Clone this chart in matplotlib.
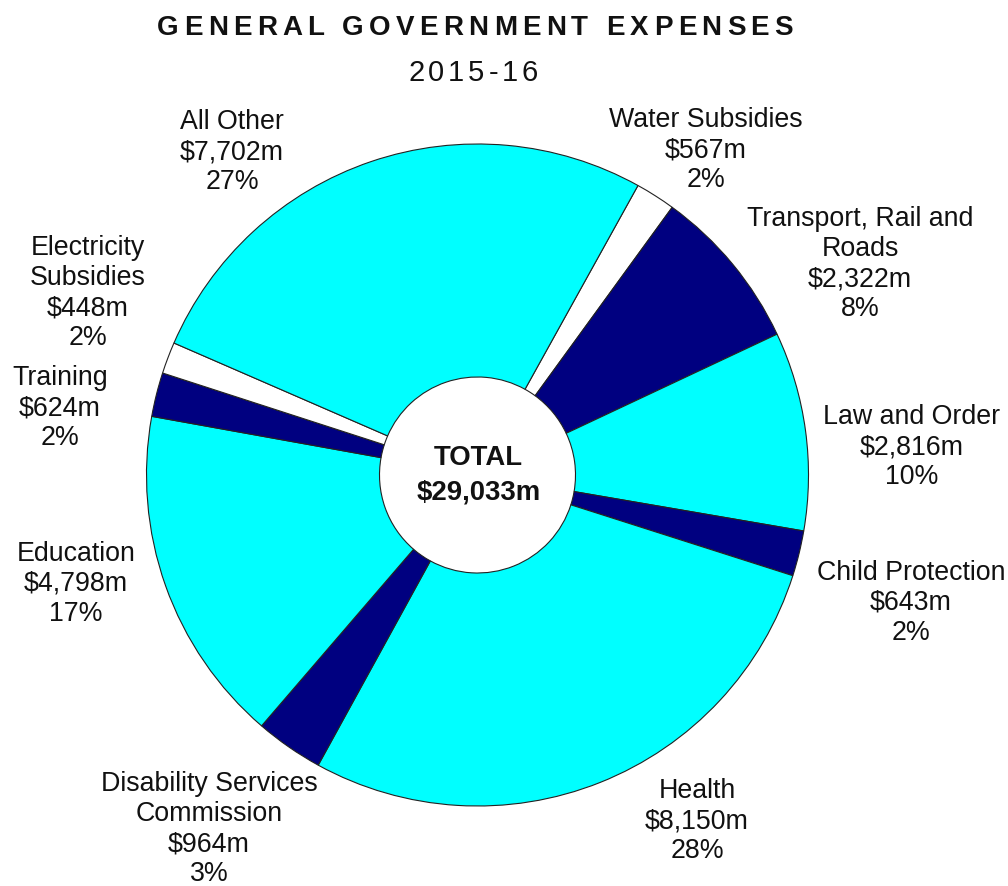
import matplotlib
matplotlib.use("Agg")
import matplotlib.pyplot as plt

plt.rcParams['font.family'] = ['Liberation Sans', 'DejaVu Sans']

# ================= DATA =================

categories = [
    "Water Subsidies",
    "Transport, Rail and\nRoads",
    "Law and Order",
    "Child Protection",
    "Health",
    "Disability Services\nCommission",
    "Education",
    "Training",
    "Electricity\nSubsidies",
    "All Other",
]

values = [567, 2322, 2816, 643, 8150, 964, 4798, 624, 448, 7702]
percents = [2, 8, 10, 2, 28, 3, 17, 2, 2, 27]
total_label = "TOTAL\n$29,033m"

title = "GENERAL GOVERNMENT EXPENSES"
subtitle = "2015-16"

# ================= STYLE =================

CYAN = "#00FFFF"
NAVY = "#000080"
WHITE = "#FFFFFF"
colors = [WHITE, NAVY, CYAN, NAVY, CYAN, NAVY, CYAN, NAVY, WHITE, CYAN]

W, H = 1008, 886
center_px = (477.5, 475)
radius_px = 331
hole_px = 98

# label block centres, in pixels from top-left
label_pos = [
    (706, 150),
    (860, 264),
    (912, 447),
    (911, 603),
    (697, 821),
    (209, 829),
    (76, 584),
    (60, 408),
    (88, 293),
    (232, 152),
]


def py(y):
    return H - y


fig = plt.figure(figsize=(W / 100, H / 100), dpi=100)
ax = fig.add_axes([0, 0, 1, 1])

ax.pie(
    values,
    colors=colors,
    startangle=61,
    counterclock=False,
    radius=radius_px,
    center=(center_px[0], py(center_px[1])),
    wedgeprops=dict(width=radius_px - hole_px, edgecolor="#222222", linewidth=0.8),
)

ax.set_xlim(0, W)
ax.set_ylim(0, H)
ax.set_aspect("equal")
ax.axis("off")

# slice labels
for name, val, pct, (x, y) in zip(categories, values, percents, label_pos):
    ax.text(x, py(y), f"{name}\n${val:,}m\n{pct}%", ha="center", va="center",
            fontsize=19.3, color="#111111", linespacing=1.2)

# centre total
ax.text(center_px[0] + 1, py(center_px[1]), total_label, ha="center", va="center",
        fontsize=19.8, fontweight="bold", color="#111111", linespacing=1.42)

renderer = fig.canvas.get_renderer()


def spaced_text(x, y, s, total_width, **kw):
    # draw text char by char so it can be letter-spaced like the original
    def width(t):
        tmp = ax.text(0, 0, t, **kw)
        w = tmp.get_window_extent(renderer).width
        tmp.remove()
        return w

    bar = width("|")
    prefix = [width(s[:i] + "|") - bar for i in range(len(s) + 1)]
    gap = (total_width - prefix[-1]) / (len(s) - 1)
    x0 = x - total_width / 2
    for i, ch in enumerate(s):
        ax.text(x0 + prefix[i] + i * gap, y, ch, ha="left", va="center", **kw)


spaced_text(475, py(28), title, 636, fontsize=20, fontweight="bold", color="#111111")
spaced_text(473, py(73), subtitle, 130, fontsize=21, color="#111111")

fig.savefig("out.png", dpi=100)
